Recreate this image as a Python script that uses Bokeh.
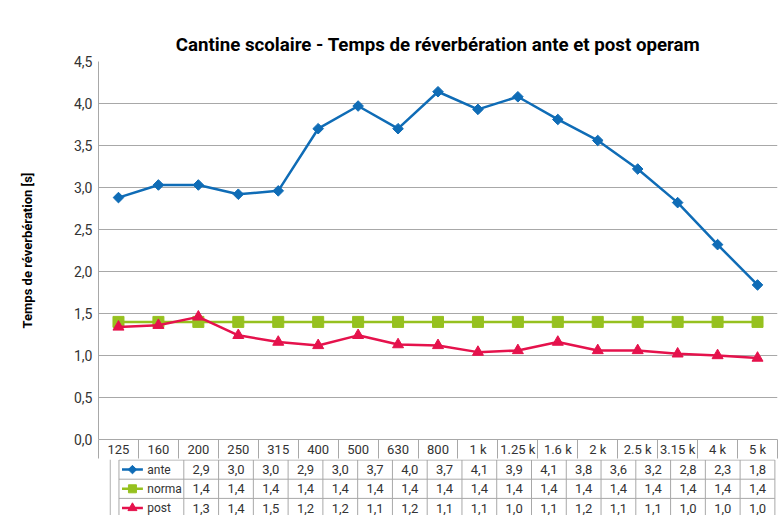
import numpy as np
from bokeh.plotting import figure
from bokeh.models import ColumnDataSource, Range1d, FixedTicker, BoxAnnotation
from bokeh.layouts import column
from bokeh.embed import file_html
from bokeh.resources import INLINE
from bokeh.core.properties import value

# ---------------- data ----------------
CATEGORIES = ["125", "160", "200", "250", "315", "400", "500", "630", "800",
              "1 k", "1.25 k", "1.6 k", "2 k", "2.5 k", "3.15 k", "4 k", "5 k"]
ANTE = [2.88, 3.03, 3.03, 2.92, 2.96, 3.70, 3.97, 3.70, 4.14,
        3.93, 4.08, 3.81, 3.56, 3.22, 2.82, 2.32, 1.84]
NORMA = [1.40, 1.40, 1.40, 1.40, 1.40, 1.40, 1.40, 1.40, 1.40,
         1.40, 1.40, 1.40, 1.40, 1.40, 1.40, 1.40, 1.40]
POST = [1.34, 1.36, 1.46, 1.24, 1.16, 1.12, 1.24, 1.13, 1.12,
        1.04, 1.06, 1.16, 1.06, 1.06, 1.02, 1.00, 0.97]
SERIES_NAMES = ["ante", "norma", "post"]
Y_TICKS = [0.0, 0.5, 1.0, 1.5, 2.0, 2.5, 3.0, 3.5, 4.0, 4.5]
Y_TICK_LABELS = ["0,0", "0,5", "1,0", "1,5", "2,0", "2,5", "3,0", "3,5", "4,0", "4,5"]
TITLE = "Cantine scolaire - Temps de réverbération ante et post operam"
Y_LABEL = "Temps de réverbération [s]"

# ---------------- styles / layout ----------------
FONT = "Roboto"
COLORS = ["#0f6cb6", "#96c11f", "#e5124c"]
GRID = "#a8a8a8"
TXT = "#333333"

M = 0                     # page offset of the layout
PLOT_L, PLOT_R, PLOT_T, PLOT_B = 98, 777, 61, 440
HEADER_B = 459
ROW_H = 19.2
LEGEND_L = 23
BORDER_X, BORDER_Y = 13.5, 10.5
W = 780
H1 = HEADER_B - M
H2 = 515 - HEADER_B
HDR_H = HEADER_B - PLOT_B

n = len(CATEGORIES)
COL_W = (PLOT_R - PLOT_L) / n
x_centers = [i + 0.5 for i in range(n)]
x_bounds = [float(i) for i in range(n + 1)]


def fmt(v):
    return f"{v:.1f}".replace(".", ",")


# ---------------- chart figure ----------------
p = figure(width=W, height=H1, output_backend="svg", toolbar_location=None,
           x_range=Range1d(0, n), y_range=Range1d(0, 4.5),
           min_border_left=PLOT_L - M, min_border_right=M + W - PLOT_R,
           min_border_top=PLOT_T - M, min_border_bottom=HDR_H)
p.outline_line_color = None
p.background_fill_color = "white"
p.border_fill_color = "white"

p.title.text = TITLE
p.title.align = "center"
p.title.text_font = FONT
p.title.text_font_size = "18.7px"
p.title.text_font_style = "bold"
p.title.text_color = "black"
p.title.standoff = 11

# y axis
ya = p.yaxis[0]
ya.ticker = FixedTicker(ticks=Y_TICKS)
ya.major_label_overrides = {t: l for t, l in zip(Y_TICKS, Y_TICK_LABELS)}
ya.major_label_text_font = FONT
ya.major_label_text_font_size = "14px"
ya.major_label_text_color = TXT
ya.major_label_standoff = 6
ya.major_tick_out = 0
ya.major_tick_in = 0
ya.minor_tick_line_color = None
ya.axis_line_color = GRID
ya.axis_label = Y_LABEL
ya.axis_label_text_font = FONT
ya.axis_label_text_font_size = "13px"
ya.axis_label_text_font_style = "bold"
ya.axis_label_text_color = "black"
ya.axis_label_standoff = 36

# x axis = header row of the data table
xa = p.xaxis[0]
xa.ticker = FixedTicker(ticks=x_centers, minor_ticks=x_bounds)
xa.major_label_overrides = {c: l for c, l in zip(x_centers, CATEGORIES)}
xa.major_label_text_font = FONT
xa.major_label_text_font_size = "13px"
xa.major_label_text_color = TXT
xa.major_label_standoff = -HDR_H + 2
xa.major_tick_out = 0
xa.major_tick_in = 0
xa.minor_tick_in = 0
xa.minor_tick_out = HDR_H
xa.minor_tick_line_color = GRID
xa.axis_line_color = GRID

p.xgrid.grid_line_color = None
p.ygrid.ticker = FixedTicker(ticks=Y_TICKS)
p.ygrid.grid_line_color = GRID
p.ygrid.grid_line_width = 1

src = ColumnDataSource(dict(x=x_centers, ante=ANTE, norma=NORMA, post=POST))
p.line("x", "norma", source=src, color=COLORS[1], line_width=2.5)
p.scatter("x", "norma", source=src, marker="square", size=11,
          fill_color=COLORS[1], line_color=COLORS[1])
p.line("x", "post", source=src, color=COLORS[2], line_width=2.5)
p.scatter("x", "post", source=src, marker="triangle", size=11,
          fill_color=COLORS[2], line_color=COLORS[2])
p.line("x", "ante", source=src, color=COLORS[0], line_width=2.5)
p.scatter("x", "ante", source=src, marker="square", angle=np.pi / 4, size=7.5,
          fill_color=COLORS[0], line_color=COLORS[0])

# outer chart border (screen units relative to frame bottom-left)
p.add_layout(BoxAnnotation(left=BORDER_X - PLOT_L, right=900,
                           top=PLOT_B - BORDER_Y, bottom=-200,
                           left_units="screen", right_units="screen",
                           top_units="screen", bottom_units="screen",
                           fill_color=None, line_color="#b0b0b0", line_width=1,
                           level="underlay"))

# ---------------- table figure ----------------
x0 = (M - PLOT_L) / COL_W
x1 = (M + W - PLOT_L) / COL_W
y1 = 0.5 / ROW_H
y0 = y1 - H2 / ROW_H
t = figure(width=W, height=H2, output_backend="svg", toolbar_location=None,
           x_range=Range1d(x0, x1), y_range=Range1d(y0, y1),
           min_border_left=0, min_border_right=0, min_border_top=0,
           min_border_bottom=0)
t.axis.visible = False
t.grid.visible = False
t.outline_line_color = None

xl = (LEGEND_L + 0.5 - PLOT_L) / COL_W
xb = (BORDER_X - PLOT_L) / COL_W
rows = len(SERIES_NAMES)
# horizontal row lines
t.segment(x0=[xl] * (rows + 1), y0=[-r for r in range(rows + 1)],
          x1=[n] * (rows + 1), y1=[-r for r in range(rows + 1)],
          line_color=GRID, line_width=1)
# vertical column lines
vx = [xl] + x_bounds
t.segment(x0=vx, y0=[0] * len(vx), x1=vx, y1=[y0] * len(vx),
          line_color=GRID, line_width=1)
# outer border continues
t.segment(x0=[xb], y0=[y0], x1=[xb], y1=[y1], line_color="#b0b0b0", line_width=1)

series = [ANTE, NORMA, POST]
tx, ty, tt = [], [], []
for r, vals in enumerate(series):
    for xc, v in zip(x_centers, vals):
        tx.append(xc)
        ty.append(-r - 0.5)
        tt.append(fmt(v))
t.text(x=tx, y=ty, text=tt, text_align="center", text_baseline="middle",
       text_font=value(FONT), text_font_size="13px", text_color=TXT)

# legend keys
lx0 = (27 - PLOT_L) / COL_W
lx1 = (51 - PLOT_L) / COL_W
lxm = (39 - PLOT_L) / COL_W
ltx = (56 - PLOT_L) / COL_W
markers = [("square", np.pi / 4, 6), ("square", 0, 8), ("triangle", 0, 9)]
for r, (name, col, (mk, ang, sz)) in enumerate(zip(SERIES_NAMES, COLORS, markers)):
    yc = -r - 0.5
    t.line(x=[lx0, lx1], y=[yc, yc], color=col, line_width=2.5)
    t.scatter(x=[lxm], y=[yc], marker=mk, angle=ang, size=sz,
              fill_color=col, line_color=col)
t.text(x=[ltx] * rows, y=[-r - 0.5 for r in range(rows)], text=SERIES_NAMES,
       text_align="left", text_baseline="middle",
       text_font=value(FONT), text_font_size="12px", text_color=TXT)

layout = column(p, t, spacing=0)
open("out.html", "w").write(file_html(layout, INLINE))
